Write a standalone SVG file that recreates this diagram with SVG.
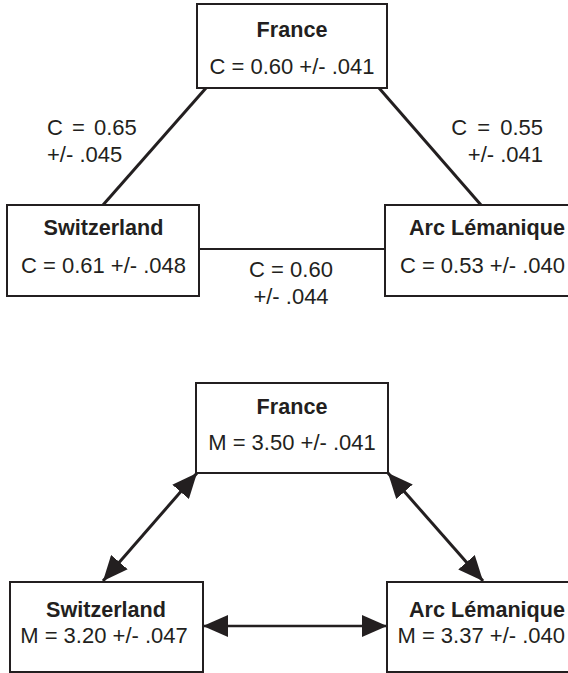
<svg xmlns="http://www.w3.org/2000/svg" width="568" height="673" viewBox="0 0 568 673">
  <style>
    .box { fill: #ffffff; stroke: #231f20; stroke-width: 2; }
    .link { stroke: #231f20; stroke-width: 3; fill: none; }
    .arrow { stroke: #231f20; stroke-width: 3; fill: none; marker-start: url(#head); marker-end: url(#head); }
    .title { font-family: "Liberation Sans", Arial, sans-serif; font-weight: bold; font-size: 21.6px; fill: #231f20; }
    .val { font-family: "Liberation Sans", Arial, sans-serif; font-size: 22px; fill: #231f20; }
    .lbl { font-family: "Liberation Sans", Arial, sans-serif; font-size: 22px; fill: #231f20; }
  </style>
  <defs>
    <marker id="head" markerUnits="userSpaceOnUse" markerWidth="28" markerHeight="22" refX="25" refY="11" orient="auto-start-reverse">
      <path d="M0,0 L25,11 L0,22 Z" fill="#231f20"/>
    </marker>
  </defs>

  <!-- Upper panel: C values -->
  <g id="connectors-c">
    <line class="link" x1="206" y1="88" x2="103" y2="205"/>
    <line class="link" x1="379" y1="88" x2="481" y2="205"/>
    <line class="link" x1="199" y1="249" x2="385" y2="249" style="stroke-width:2"/>
    <text class="lbl" x="47" y="135" word-spacing="3">C = 0.65</text>
    <text class="lbl" x="47" y="162">+/- .045</text>
    <text class="lbl" x="543" y="135" text-anchor="end" word-spacing="4">C = 0.55</text>
    <text class="lbl" x="543" y="162" text-anchor="end">+/- .041</text>
    <text class="lbl" x="291" y="277" text-anchor="middle">C = 0.60</text>
    <text class="lbl" x="291" y="304" text-anchor="middle">+/- .044</text>
  </g>

  <g id="france-c">
    <rect class="box" x="197" y="4" width="190" height="84"/>
    <text class="title" x="292" y="37" text-anchor="middle">France</text>
    <text class="val" x="292" y="74" text-anchor="middle">C = 0.60 +/- .041</text>
  </g>

  <g id="switzerland-c">
    <rect class="box" x="7" y="205" width="192" height="91"/>
    <text class="title" x="103.5" y="235" text-anchor="middle">Switzerland</text>
    <text class="val" x="103.5" y="273" text-anchor="middle">C = 0.61 +/- .048</text>
  </g>

  <g id="arc-lemanique-c">
    <rect class="box" x="385" y="205" width="210" height="91"/>
    <text class="title" x="565" y="235" text-anchor="end">Arc Lémanique</text>
    <text class="val" x="565" y="273" text-anchor="end">C = 0.53 +/- .040</text>
  </g>

  <!-- Lower panel: M values -->
  <g id="connectors-m">
    <line class="arrow" x1="197" y1="473" x2="103" y2="581"/>
    <line class="arrow" x1="388" y1="473" x2="483" y2="581"/>
    <line class="arrow" x1="203" y1="626" x2="387" y2="626" style="stroke-width:2.5"/>
  </g>

  <g id="france-m">
    <rect class="box" x="196" y="383" width="192" height="90"/>
    <text class="title" x="292" y="414" text-anchor="middle">France</text>
    <text class="val" x="292" y="450" text-anchor="middle">M = 3.50 +/- .041</text>
  </g>

  <g id="switzerland-m">
    <rect class="box" x="10" y="582" width="193" height="90"/>
    <text class="title" x="106" y="617" text-anchor="middle">Switzerland</text>
    <text class="val" x="104" y="643" text-anchor="middle">M = 3.20 +/- .047</text>
  </g>

  <g id="arc-lemanique-m">
    <rect class="box" x="387" y="582" width="210" height="90"/>
    <text class="title" x="565" y="617" text-anchor="end">Arc Lémanique</text>
    <text class="val" x="565" y="643" text-anchor="end">M = 3.37 +/- .040</text>
  </g>
</svg>
